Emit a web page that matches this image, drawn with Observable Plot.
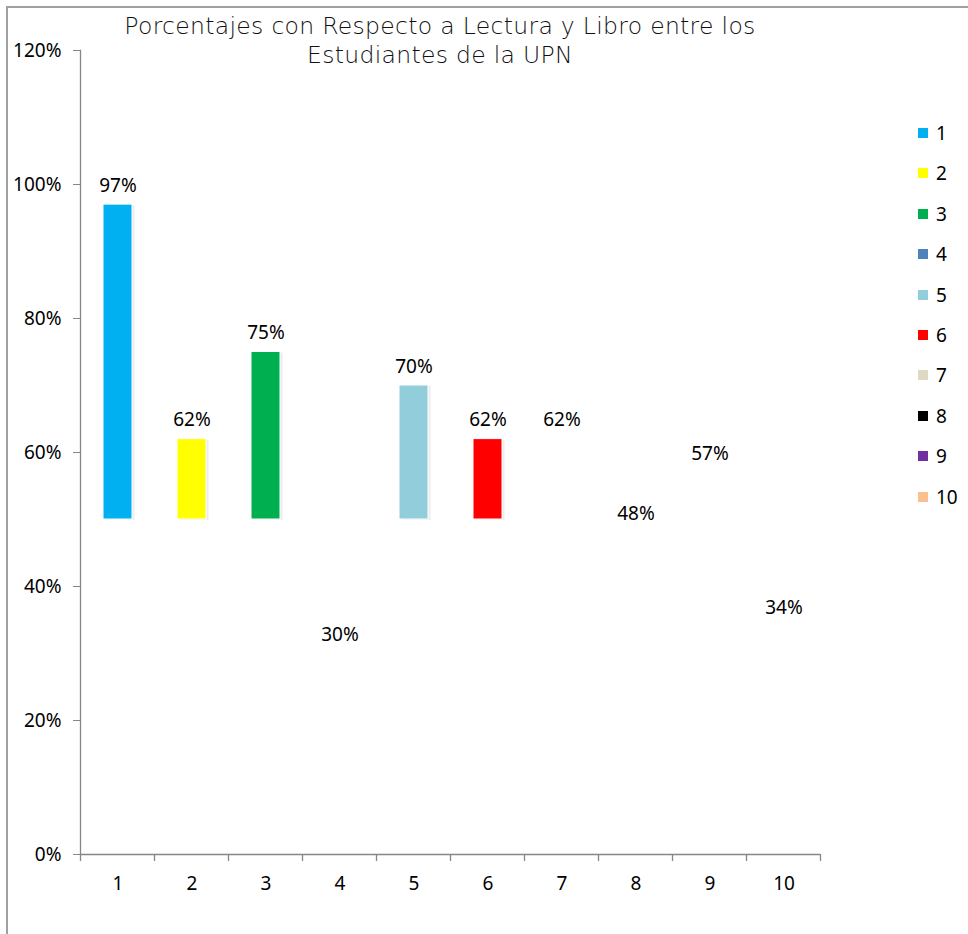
<!DOCTYPE html>
<html>
<head>
<meta charset="utf-8">
<script src="https://cdn.jsdelivr.net/npm/d3@7"></script>
<script src="https://cdn.jsdelivr.net/npm/@observablehq/plot@0.6"></script>
<style>
  html, body { margin: 0; padding: 0; background: #fff; }
  #wrap { position: relative; width: 968px; height: 934px; overflow: hidden; }
  #frameBox { position: absolute; left: 6px; top: 6px; width: 1200px; height: 1200px;
    border-left: 2px solid #a0a0a0; border-top: 2px solid #a0a0a0; box-sizing: border-box; }
  #title { position: absolute; left: 0; width: 880px; top: 12px; text-align: center;
    font-family: "DejaVu Sans", sans-serif; font-weight: 200; font-size: 23.5px; letter-spacing: 0.3px; color: #111; }
  #title div { height: 28.5px; line-height: 28.5px; }
  #chart { position: absolute; left: 0; top: 0; }
  #legend { position: absolute; left: 918px; top: 0; font-family: "Noto Sans", sans-serif; font-size: 19px; color: #000; }
  .item { position: absolute; left: 0; white-space: nowrap; display: flex; align-items: center; height: 20px; }
  .sw { width: 10px; height: 10px; margin-right: 8px; }
</style>
</head>
<body>
<div id="wrap">
  <div id="frameBox"></div>
  <div id="chart"></div>
  <div id="title"><div>Porcentajes con Respecto a Lectura y Libro entre los</div><div>Estudiantes de la UPN</div></div>
  <div id="legend"></div>
</div>
<script>
const categories = ["1", "2", "3", "4", "5", "6", "7", "8", "9", "10"];
const values = [0.97, 0.62, 0.75, 0.30, 0.70, 0.62, 0.62, 0.48, 0.57, 0.34];
const colors = ["#00B0F0", "#FFFF00", "#00B050", "#4F81BD", "#92CDDC", "#FF0000", "#DDD9C3", "#000000", "#7030A0", "#FAC090"];
const filled = [true, true, true, false, true, true, false, false, false, false];
const baseValue = 0.5;
const yTicks = [0, 0.2, 0.4, 0.6, 0.8, 1.0, 1.2];

const data = categories.map((c, i) => ({ cat: c, value: values[i], color: colors[i], filled: filled[i] }));
const barData = data.filter(d => d.filled);
const axisGray = "#868686";
const fs = 19;

const plot = Plot.plot({
  width: 968,
  height: 934,
  marginLeft: 80,
  marginRight: 148,
  marginTop: 50,
  marginBottom: 80,
  style: { fontFamily: "'Noto Sans', sans-serif", fontSize: fs + "px", background: "transparent", color: "#000" },
  x: { domain: categories, paddingInner: 0.61, paddingOuter: 0.305, label: null },
  y: { domain: [0, 1.2], label: null },
  marks: [
    Plot.rectY(barData, { x: "cat", y1: baseValue, y2: "value", fill: "#000", fillOpacity: 0.07, dx: 2.5, dy: 1 }),
    Plot.rectY(barData, { x: "cat", y1: baseValue, y2: "value", fill: d => d.color, stroke: "#fff", strokeWidth: 1 }),
    Plot.text(data, { x: "cat", y: "value", text: d => d3.format(".0%")(d.value), lineAnchor: "bottom", dy: -13, fontSize: fs, fill: "#000" }),
    Plot.ruleY([0], { stroke: axisGray, strokeWidth: 1.3 }),
    Plot.frame({ anchor: "left", stroke: axisGray, strokeWidth: 1.3 }),
    Plot.axisY({ ticks: yTicks, tickFormat: d3.format(".0%"), tickSize: 7, tickPadding: 12, stroke: axisGray, fill: "#000", fontSize: fs, label: null }),
    Plot.axisX({ tickSize: 0, tickPadding: 22, fill: "#000", fontSize: fs, label: null })
  ]
});

document.getElementById("chart").appendChild(plot);

// band-boundary tick marks on the x axis, placed through the x scale
const xs = plot.scale("x");
const ys = plot.scale("y");
const gap = xs.step - xs.bandwidth;
const bounds = categories.map(c => xs.apply(c) - gap / 2);
bounds.push(xs.apply(categories[categories.length - 1]) + xs.bandwidth + gap / 2);
const y0 = ys.apply(0);
d3.select(plot).append("g")
  .attr("stroke", axisGray).attr("stroke-width", 1.3)
  .selectAll("line").data(bounds).join("line")
  .attr("x1", d => d).attr("x2", d => d)
  .attr("y1", y0).attr("y2", y0 + 7);

// legend
const legend = document.getElementById("legend");
categories.forEach((c, i) => {
  const it = document.createElement("div");
  it.className = "item";
  it.style.top = (123 + i * 40.4) + "px";
  it.innerHTML = `<span class="sw" style="background:${colors[i]}"></span><span>${c}</span>`;
  legend.appendChild(it);
});
</script>
</body>
</html>
